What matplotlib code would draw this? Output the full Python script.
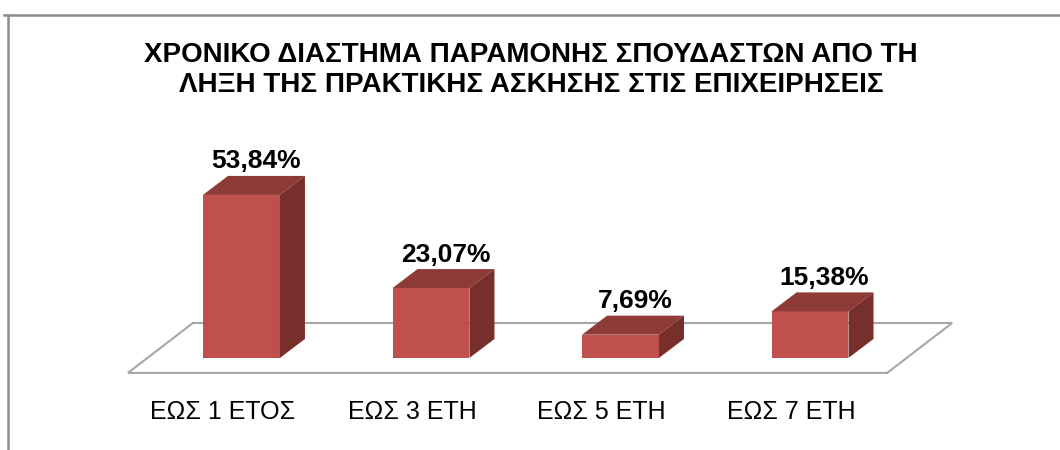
import numpy as np
import matplotlib.pyplot as plt
from matplotlib.patches import Polygon
from matplotlib.lines import Line2D

# data
categories = ["ΕΩΣ 1 ΕΤΟΣ", "ΕΩΣ 3 ΕΤΗ", "ΕΩΣ 5 ΕΤΗ", "ΕΩΣ 7 ΕΤΗ"]
values = [53.84, 23.07, 7.69, 15.38]
value_labels = ["53,84%", "23,07%", "7,69%", "15,38%"]
title = "ΧΡΟΝΙΚΟ ΔΙΑΣΤΗΜΑ ΠΑΡΑΜΟΝΗΣ ΣΠΟΥΔΑΣΤΩΝ ΑΠΟ ΤΗ\nΛΗΞΗ ΤΗΣ ΠΡΑΚΤΙΚΗΣ ΑΣΚΗΣΗΣ ΣΤΙΣ ΕΠΙΧΕΙΡΗΣΕΙΣ"

plt.rcParams['font.family'] = ['Liberation Sans', 'DejaVu Sans']

front_c = '#C0504D'
top_c = '#8E3A37'
side_c = '#772F2C'

fig = plt.figure(figsize=(10.6, 4.5), dpi=100)
ax = fig.add_axes([0, 0, 1, 1])
ax.set_xlim(-1.274, 4.319)
ax.set_ylim(-30.4, 118.2)
ax.axis('off')

x = np.arange(len(values))
w = 0.406
dx, dy = 0.132, 6.27  # profundidade das barras

# chao (piso) em perspectiva
fdx, fdy = 0.343, 16.5
floor = Polygon([(-0.599, -4.95), (3.407, -4.95), (3.407 + fdx, -4.95 + fdy),
                 (-0.599 + fdx, -4.95 + fdy)], closed=True,
                facecolor='white', edgecolor='#A6A6A6', lw=1.5, zorder=1)
ax.add_patch(floor)

# barras 3d
ax.bar(x, values, width=w, color=front_c, zorder=3)
for i, v in enumerate(values):
    l, r = x[i] - w / 2, x[i] + w / 2
    top = Polygon([(l, v), (r, v), (r + dx, v + dy), (l + dx, v + dy)],
                  closed=True, facecolor=top_c, edgecolor='none', zorder=3)
    side = Polygon([(r, 0), (r + dx, dy), (r + dx, v + dy), (r, v)],
                   closed=True, facecolor=side_c, edgecolor='none', zorder=3)
    ax.add_patch(top)
    ax.add_patch(side)
    ax.text(x[i] + dx / 2 + 0.01, v + dy + 0.8, value_labels[i], ha='center', va='bottom',
            fontsize=19, fontweight='bold', zorder=4)
    ax.text(x[i] - 0.1, -17.8, categories[i], ha='center', va='center',
            fontsize=18, zorder=4)

fig.text(0.501, 0.844, title, ha='center', va='center', fontsize=20,
         fontweight='bold', linespacing=1.2)

# moldura
fig.add_artist(Line2D([4 / 1060, 1], [1 - 15 / 450, 1 - 15 / 450], color='#8C8C8C', lw=1.8))
fig.add_artist(Line2D([8 / 1060, 8 / 1060], [0, 1 - 15 / 450], color='#8C8C8C', lw=1.8))

fig.savefig('out.png', dpi=100)
